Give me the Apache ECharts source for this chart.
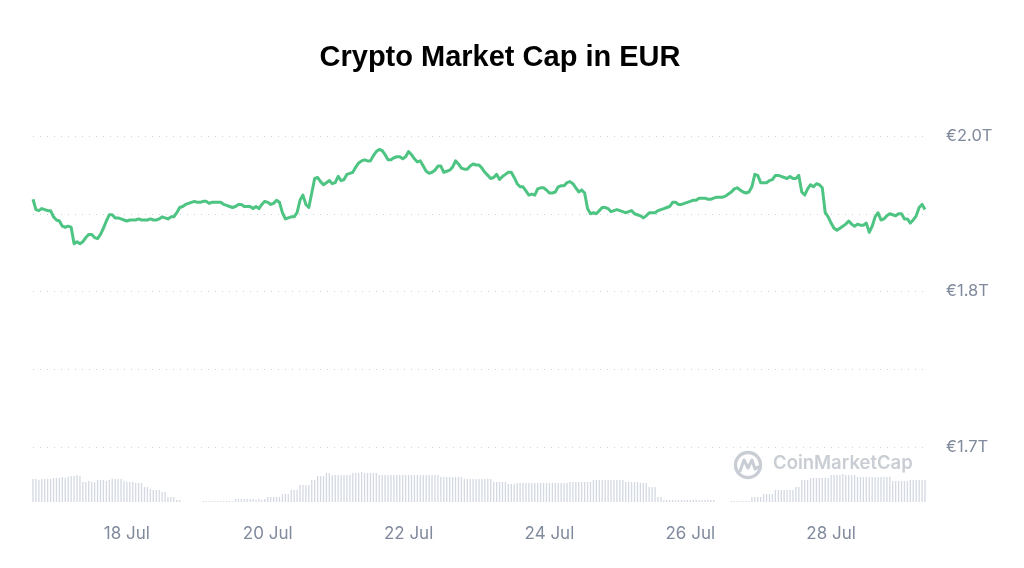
<!DOCTYPE html>
<html><head><meta charset="utf-8">
<script src="https://cdn.jsdelivr.net/npm/echarts@6/dist/echarts.min.js"></script>
<style>html,body{margin:0;padding:0;background:#fff}#c{width:1024px;height:568px}</style>
</head><body><div id="c"></div><script>
const chartTitle = 'Crypto Market Cap in EUR';
const startTime = Date.UTC(2023, 6, 16, 16, 0, 0);
const stepMs = 3600000;

// Market cap in billions EUR, hourly
const marketCapB = [
1939,1929,1928,1930,1929,1928,1928,1922,1919,1918,
1913,1912,1913,1912,1896,1898,1896,1898,1902,1905,
1905,1902,1901,1905,1911,1918,1924,1924,1921,1921,
1920,1919,1918,1919,1919,1919,1920,1919,1919,1919,
1920,1919,1919,1920,1922,1921,1920,1922,1922,1926,
1931,1932,1934,1935,1936,1937,1936,1936,1937,1937,
1935,1936,1936,1936,1936,1934,1933,1932,1931,1932,
1934,1934,1932,1932,1932,1930,1932,1930,1934,1937,
1936,1934,1935,1938,1936,1926,1920,1921,1922,1922,
1926,1938,1943,1934,1931,1945,1959,1960,1956,1953,
1955,1957,1954,1955,1961,1957,1958,1963,1964,1965,
1970,1974,1976,1977,1976,1976,1981,1985,1987,1986,
1982,1977,1977,1979,1980,1980,1978,1980,1985,1982,
1978,1975,1976,1971,1966,1964,1965,1967,1971,1971,
1965,1966,1967,1970,1976,1973,1969,1968,1968,1971,
1973,1972,1972,1969,1965,1962,1959,1960,1963,1958,
1961,1963,1965,1965,1960,1954,1951,1951,1947,1943,
1944,1943,1949,1950,1950,1948,1945,1945,1946,1951,
1952,1952,1955,1956,1954,1950,1946,1948,1945,1930,
1925,1926,1925,1928,1931,1931,1930,1927,1928,1929,
1928,1927,1926,1927,1928,1925,1924,1923,1921,1923,
1926,1926,1926,1928,1929,1930,1931,1932,1936,1936,
1934,1934,1935,1936,1937,1938,1938,1940,1940,1940,
1939,1939,1940,1941,1941,1941,1942,1944,1946,1949,
1950,1948,1946,1945,1946,1951,1963,1962,1955,1955,
1955,1957,1958,1962,1962,1961,1960,1959,1961,1959,
1959,1962,1946,1943,1949,1953,1951,1954,1953,1950,
1926,1922,1916,1911,1909,1911,1913,1915,1918,1915,
1913,1915,1914,1914,1916,1907,1913,1922,1926,1919,
1920,1923,1925,1924,1923,1925,1925,1920,1920,1916,
1919,1923,1931,1934,1929
];

// Trading volume (relative units), hourly
const volume = [
23,23,22,23,23,23,23,24,24,24,
25,24,25,26,26,27,26,20,20,21,
20,20,22,22,22,21,22,23,23,23,
23,21,20,20,20,19,19,19,15,15,
13,12,12,12,10,10,5,5,5,2,
2,0,0,0,0,0,0,0,1,1,
1,1,1,1,1,1,1,1,1,3,
3,3,3,3,3,3,2,3,2,3,
5,5,5,5,5,8,8,8,12,12,
12,17,17,17,17,22,22,26,26,26,
29,29,27,27,27,27,27,27,27,29,
29,29,30,29,29,29,29,29,27,27,
27,27,27,27,27,27,27,27,27,27,
27,27,27,27,27,27,27,27,27,25,
25,25,25,25,25,25,25,23,23,23,
23,23,23,23,23,23,23,20,20,20,
20,20,18,18,18,19,19,19,19,19,
19,19,19,19,19,19,19,19,19,19,
19,19,19,20,20,20,20,20,20,20,
20,22,22,22,22,22,22,22,22,22,
22,22,20,20,20,20,20,19,19,19,
15,15,15,5,5,2,2,2,2,2,
2,2,2,2,2,2,2,2,2,2,
2,2,2,0,0,0,0,0,1,1,
1,1,1,1,1,5,5,5,5,8,
8,8,8,12,12,12,12,12,12,12,
15,15,22,22,22,24,24,24,24,24,
24,24,27,27,27,27,28,27,27,27,
27,25,25,25,25,25,25,25,25,25,
25,25,25,21,21,21,21,21,21,22,
22,22,22,22,22
];

const xTickLabels = ['18 Jul', '20 Jul', '22 Jul', '24 Jul', '26 Jul', '28 Jul'];
const yTickValues = [1700, 1775, 1850, 1925, 2000];
const yTickLabels = ['€1.7T', '', '€1.8T', '', '€2.0T'];

// hourly category names, e.g. "18 Jul 00:00"
const hourCats = marketCapB.map((_, i) => {
  const d = new Date(startTime + i * stepMs);
  return d.getUTCDate() + ' Jul ' + String(d.getUTCHours()).padStart(2, '0') + ':00';
});
const tickCats = xTickLabels.map(l => l + ' 00:00');

const labelColor = '#808a9d';
const chart = echarts.init(document.getElementById('c'), null, { renderer: 'canvas' });
const hiddenCatAxis = (gi) => ({
  type: 'category', gridIndex: gi, data: hourCats, boundaryGap: false,
  axisLine: { show: false }, axisTick: { show: false }, splitLine: { show: false }
});
chart.setOption({
  backgroundColor: '#ffffff',
  animation: false,
  title: {
    text: chartTitle,
    left: 495, top: 38, textAlign: 'center',
    textStyle: { fontFamily: 'Liberation Sans', fontWeight: 'bold', fontSize: 29, color: '#000000' }
  },
  grid: [
    { left: 33, right: 99, top: 136, bottom: 121 },
    { left: 33, right: 99, top: 402, bottom: 66 }
  ],
  xAxis: [
    Object.assign(hiddenCatAxis(0), { axisLabel: { show: false } }),
    Object.assign(hiddenCatAxis(1), {
      axisLabel: {
        show: true,
        interval: (idx, val) => tickCats.indexOf(val) >= 0,
        margin: 23,
        color: labelColor, fontFamily: 'Inter', fontSize: 17,
        formatter: (val) => { const i = tickCats.indexOf(val); return i >= 0 ? xTickLabels[i] : ''; }
      }
    })
  ],
  yAxis: [
    { type: 'value', gridIndex: 0, position: 'right', min: 1700, max: 2000, interval: 75,
      axisLine: { show: false }, axisTick: { show: false },
      splitLine: { show: true, lineStyle: { color: '#cdd2da', width: 1, type: [1, 6] } },
      axisLabel: {
        margin: 21, color: labelColor, fontFamily: 'Inter', fontSize: 16.5,
        formatter: (v) => { const i = yTickValues.findIndex(t => Math.abs(t - v) < 1e-6); return i >= 0 ? yTickLabels[i] : ''; }
      } },
    { type: 'value', gridIndex: 1, min: 0, max: 100, show: false, splitLine: { show: false } }
  ],
  graphic: [
    { type: 'group', left: 733, top: 450, z: 10, silent: true, children: [
      { type: 'circle', shape: { cx: 14, cy: 14, r: 12.5 }, style: { fill: 'none', stroke: '#c9cdd4', lineWidth: 3.4 } },
      { type: 'polyline', shape: { points: [[6, 20], [10, 9], [14, 17], [18, 9], [21, 18], [24, 16]] },
        style: { fill: 'none', stroke: '#c9cdd4', lineWidth: 3, lineJoin: 'round', lineCap: 'round' } }
    ] },
    { type: 'text', left: 773, top: 454, z: 10, silent: true,
      style: { text: 'CoinMarketCap', fill: '#c9cdd4', font: '600 18.5px Inter' } }
  ],
  series: [
    { type: 'bar', xAxisIndex: 1, yAxisIndex: 1, barWidth: 1.3, silent: true,
      itemStyle: { color: '#d3d8e2' },
      data: volume },
    { type: 'line', xAxisIndex: 0, yAxisIndex: 0, showSymbol: false, smooth: false,
      lineStyle: { color: '#4ec483', width: 3, join: 'round' },
      data: marketCapB }
  ]
});
</script></body></html>
